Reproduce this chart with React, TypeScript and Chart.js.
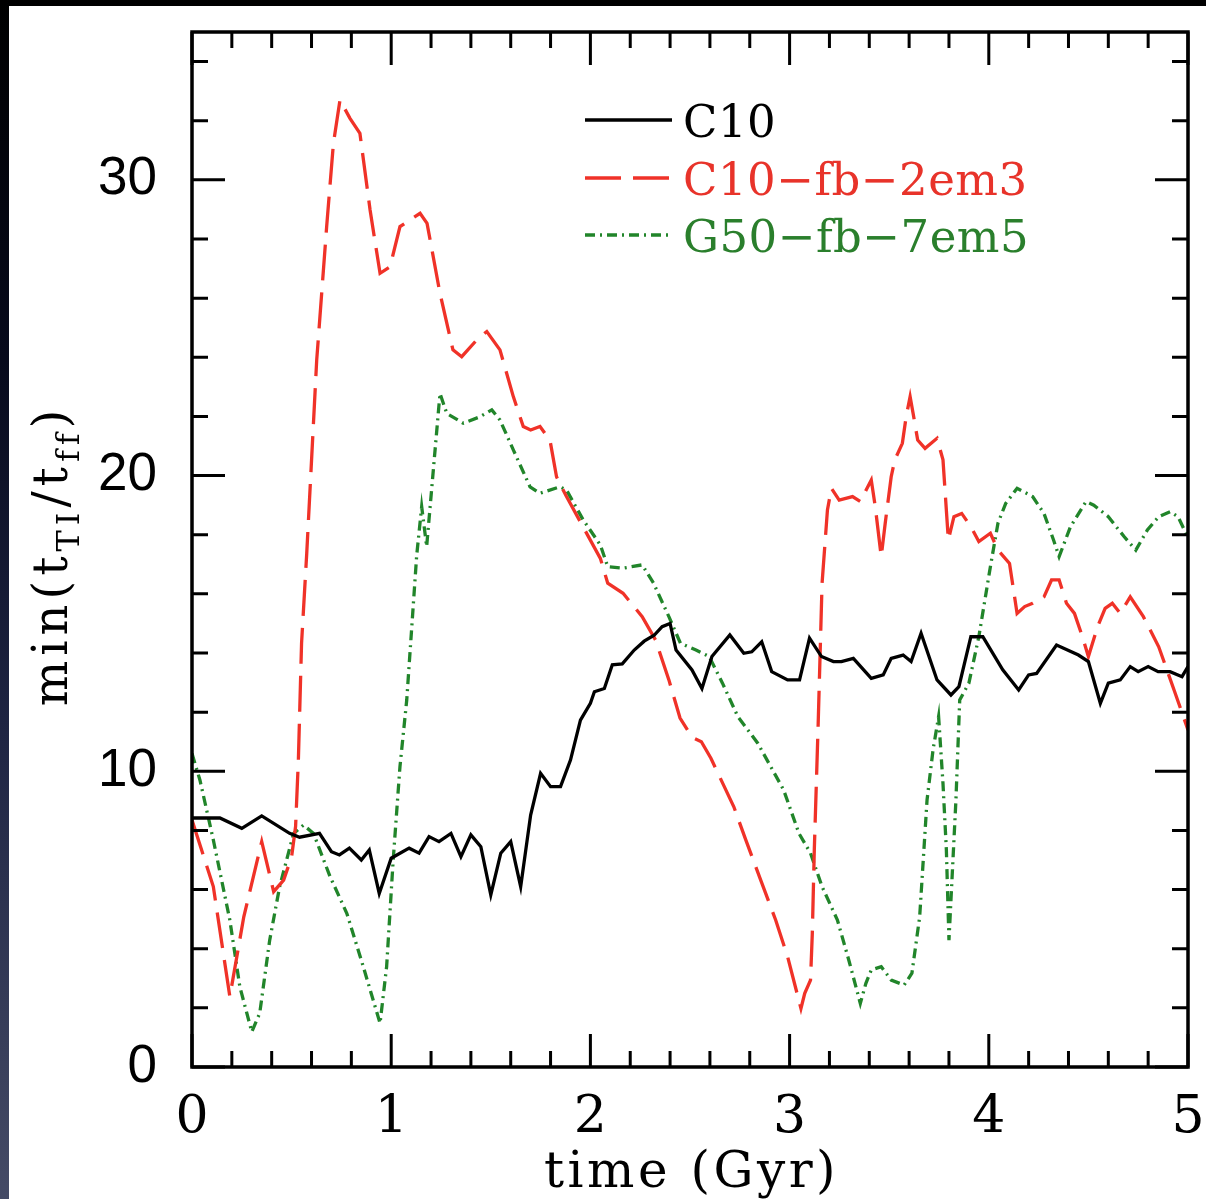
import React, { useEffect, useRef } from 'react';
import { Chart, registerables } from 'chart.js';

Chart.register(...registerables);

// ---- data (time in Gyr, value = min(t_TI/t_ff)) ----
const c10Time = [0.00, 0.14, 0.25, 0.35, 0.49, 0.54, 0.64, 0.70, 0.74, 0.79, 0.85, 0.89, 0.94, 1.00, 1.09, 1.14, 1.19, 1.24, 1.30, 1.35, 1.40, 1.45, 1.50, 1.55, 1.60, 1.65, 1.70, 1.75, 1.80, 1.85, 1.90, 1.95, 2.00, 2.02, 2.07, 2.11, 2.16, 2.22, 2.27, 2.32, 2.36, 2.40, 2.43, 2.51, 2.56, 2.61, 2.70, 2.77, 2.81, 2.86, 2.91, 2.99, 3.05, 3.10, 3.16, 3.22, 3.26, 3.32, 3.41, 3.47, 3.51, 3.57, 3.61, 3.66, 3.74, 3.81, 3.85, 3.91, 3.97, 4.07, 4.15, 4.20, 4.24, 4.34, 4.45, 4.50, 4.56, 4.60, 4.66, 4.71, 4.75, 4.80, 4.85, 4.91, 4.97, 5.00];
const c10Values = [8.42, 8.42, 8.07, 8.49, 7.90, 7.77, 7.90, 7.28, 7.17, 7.40, 7.00, 7.34, 5.87, 7.06, 7.40, 7.23, 7.79, 7.62, 7.90, 7.11, 7.85, 7.45, 5.82, 7.23, 7.62, 6.10, 8.52, 9.93, 9.48, 9.48, 10.38, 11.73, 12.30, 12.69, 12.80, 13.60, 13.63, 14.10, 14.40, 14.60, 14.89, 15.00, 14.10, 13.43, 12.80, 13.88, 14.61, 13.99, 14.04, 14.38, 13.37, 13.09, 13.09, 14.50, 13.88, 13.71, 13.71, 13.82, 13.14, 13.26, 13.82, 13.93, 13.71, 14.67, 13.09, 12.58, 12.86, 14.55, 14.55, 13.43, 12.75, 13.26, 13.31, 14.27, 13.93, 13.71, 12.30, 12.98, 13.09, 13.54, 13.37, 13.54, 13.37, 13.37, 13.20, 13.54];

const fbTime = [0.00, 0.107, 0.19, 0.26, 0.35, 0.41, 0.46, 0.50, 0.52, 0.534, 0.55, 0.576, 0.626, 0.676, 0.71, 0.743, 0.793, 0.843, 0.894, 0.944, 0.994, 1.044, 1.145, 1.18, 1.245, 1.31, 1.354, 1.43, 1.48, 1.546, 1.613, 1.663, 1.70, 1.747, 1.797, 1.83, 1.88, 2.05, 2.087, 2.164, 2.26, 2.327, 2.394, 2.45, 2.51, 2.557, 2.605, 2.72, 2.78, 2.855, 2.93, 2.99, 3.057, 3.076, 3.105, 3.114, 3.124, 3.143, 3.163, 3.19, 3.21, 3.249, 3.316, 3.355, 3.41, 3.43, 3.46, 3.48, 3.51, 3.528, 3.566, 3.585, 3.605, 3.623, 3.643, 3.68, 3.74, 3.77, 3.797, 3.825, 3.864, 3.91, 3.95, 4.008, 4.046, 4.104, 4.142, 4.18, 4.22, 4.277, 4.315, 4.353, 4.39, 4.43, 4.47, 4.50, 4.546, 4.584, 4.62, 4.66, 4.71, 4.776, 4.853, 4.93, 5.00];
const fbValues = [8.35, 6.10, 2.38, 5.08, 7.62, 5.93, 6.32, 7.11, 8.13, 10.38, 14.33, 17.37, 23.90, 28.42, 31.24, 32.70, 32.08, 31.57, 28.98, 26.84, 27.06, 28.42, 28.87, 28.53, 26.16, 24.25, 24.02, 24.59, 24.87, 24.25, 22.67, 21.66, 21.54, 21.66, 21.20, 19.96, 19.29, 17.20, 16.36, 16.02, 15.23, 14.44, 13.09, 11.80, 11.15, 11.00, 10.44, 8.80, 7.68, 6.32, 4.97, 3.73, 1.98, 2.49, 2.94, 4.52, 7.34, 11.50, 16.36, 18.84, 19.57, 19.17, 19.29, 19.12, 19.85, 18.95, 17.26, 18.39, 19.96, 20.53, 21.09, 21.99, 22.67, 21.99, 21.20, 20.92, 21.26, 20.53, 17.82, 18.61, 18.72, 18.27, 17.77, 18.05, 17.48, 17.03, 15.34, 15.57, 15.68, 15.90, 16.47, 16.47, 15.68, 15.34, 14.55, 13.88, 14.89, 15.51, 15.68, 15.34, 15.90, 15.23, 14.21, 12.75, 11.40];

const g50Time = [0.00, 0.04, 0.107, 0.19, 0.24, 0.30, 0.34, 0.39, 0.44, 0.51, 0.56, 0.61, 0.693, 0.777, 0.86, 0.944, 0.977, 1.01, 1.044, 1.078, 1.128, 1.153, 1.178, 1.245, 1.279, 1.362, 1.446, 1.505, 1.546, 1.613, 1.697, 1.747, 1.847, 1.88, 1.964, 2.05, 2.087, 2.164, 2.26, 2.317, 2.394, 2.452, 2.53, 2.596, 2.663, 2.74, 2.84, 2.97, 3.047, 3.105, 3.163, 3.24, 3.297, 3.355, 3.383, 3.41, 3.46, 3.51, 3.575, 3.614, 3.653, 3.69, 3.72, 3.748, 3.77, 3.787, 3.80, 3.835, 3.854, 3.90, 3.95, 4.008, 4.046, 4.085, 4.142, 4.22, 4.277, 4.325, 4.353, 4.41, 4.488, 4.527, 4.60, 4.68, 4.738, 4.796, 4.853, 4.91, 4.95, 5.00];
const g50Values = [10.60, 9.70, 7.68, 4.97, 2.72, 1.19, 1.82, 4.29, 6.10, 7.90, 8.18, 7.90, 6.44, 5.20, 3.39, 1.48, 3.39, 7.00, 10.16, 12.41, 17.30, 18.95, 17.60, 22.78, 22.10, 21.77, 21.99, 22.22, 21.88, 20.87, 19.62, 19.40, 19.62, 19.51, 18.50, 17.65, 16.92, 16.87, 16.98, 16.36, 15.23, 14.33, 14.10, 13.88, 12.98, 11.85, 10.95, 9.37, 7.90, 7.23, 6.10, 4.97, 3.62, 2.15, 2.83, 3.28, 3.39, 2.94, 2.77, 3.17, 5.08, 9.03, 10.72, 11.85, 9.59, 7.34, 4.29, 9.03, 12.41, 12.98, 14.55, 16.92, 18.39, 19.06, 19.57, 19.29, 18.72, 17.82, 17.26, 18.27, 19.12, 19.00, 18.61, 17.93, 17.48, 18.16, 18.61, 18.78, 18.61, 17.90];

const seriesLabels = ['C10', 'C10-fb-2em3', 'G50-fb-7em5'];
const xTickValues = [0, 1, 2, 3, 4, 5];
const yTickValues = [0, 10, 20, 30];
const xTitle = 'time (Gyr)';
const yTitleParts = [
  { text: 'min(t', sub: false },
  { text: 'TI', sub: true },
  { text: '/t', sub: false },
  { text: 'ff', sub: true },
  { text: ')', sub: false },
];

const SERIF = '"DejaVu Serif", "Liberation Serif", serif';
const SANS = '"Liberation Sans", Arial, sans-serif';
const RED = '#f03228';
const GREEN = '#21852a';
const legendTextColors = ['#000000', '#e8332a', '#2a7f2c'];

function toPoints(ts: number[], vs: number[]) {
  return ts.map((t, i) => ({ x: t, y: vs[i] }));
}

function zeroPadding(s: any) {
  s.paddingTop = 0;
  s.paddingBottom = 0;
  s.paddingLeft = 0;
  s.paddingRight = 0;
}

const framePlugin = {
  id: 'frameTicks',
  afterDatasetsDraw(chart: any) {
    const { ctx, chartArea: a, scales } = chart;
    const x = scales.x;
    const y = scales.y;
    ctx.save();
    ctx.strokeStyle = '#000';
    ctx.lineWidth = 3;
    ctx.lineCap = 'butt';
    ctx.beginPath();
    for (let i = 0; i <= 25; i++) {
      const v = i * 0.2;
      const px = x.getPixelForValue(v);
      const len = i % 5 === 0 ? 33 : 16;
      ctx.moveTo(px, a.bottom);
      ctx.lineTo(px, a.bottom - len);
      ctx.moveTo(px, a.top);
      ctx.lineTo(px, a.top + len);
    }
    for (let i = 0; i <= 17; i++) {
      const v = i * 2;
      const py = y.getPixelForValue(v);
      const len = v % 10 === 0 ? 33 : 16;
      ctx.moveTo(a.left, py);
      ctx.lineTo(a.left + len, py);
      ctx.moveTo(a.right, py);
      ctx.lineTo(a.right - len, py);
    }
    ctx.stroke();
    ctx.lineWidth = 3.5;
    ctx.strokeRect(a.left, a.top, a.right - a.left, a.bottom - a.top);
    ctx.restore();
  },
};

const textPlugin = {
  id: 'titlesLegend',
  afterDraw(chart: any) {
    const { ctx, chartArea: a } = chart;
    ctx.save();
    // x title
    ctx.fillStyle = '#000';
    ctx.font = `50px ${SERIF}`;
    (ctx as any).letterSpacing = '3.5px';
    ctx.textAlign = 'center';
    ctx.textBaseline = 'alphabetic';
    ctx.fillText(xTitle, (a.left + a.right) / 2 + 1.5, a.bottom + 120);

    // y title (rotated, with subscripts)
    ctx.save();
    ctx.translate(58, (a.top + a.bottom) / 2 + 6);
    ctx.rotate(-Math.PI / 2);
    ctx.textAlign = 'left';
    (ctx as any).letterSpacing = '5px';
    const widths = yTitleParts.map((p) => {
      ctx.font = `${p.sub ? 32 : 48}px ${SERIF}`;
      return ctx.measureText(p.text).width;
    });
    const total = widths.reduce((s, w) => s + w, 0);
    let cx = -total / 2;
    yTitleParts.forEach((p, i) => {
      ctx.font = `${p.sub ? 32 : 48}px ${SERIF}`;
      ctx.fillText(p.text, cx, p.sub ? 12 : 0);
      cx += widths[i];
    });
    ctx.restore();

    // legend
    (ctx as any).letterSpacing = '0.5px';
    ctx.font = `45px ${SERIF}`;
    ctx.textAlign = 'left';
    ctx.textBaseline = 'alphabetic';
    const rowY = [88, 146, 203];
    chart.data.datasets.forEach((ds: any, i: number) => {
      const ly = a.top + rowY[i];
      ctx.save();
      ctx.strokeStyle = ds.borderColor;
      ctx.lineWidth = ds.borderWidth;
      ctx.setLineDash(ds.borderDash || []);
      ctx.beginPath();
      ctx.moveTo(a.left + 393, ly);
      ctx.lineTo(a.left + 480, ly);
      ctx.stroke();
      ctx.restore();
      ctx.fillStyle = legendTextColors[i];
      ctx.fillText(String(ds.label).replace(/-/g, '\u2212'), a.left + 491, ly + 17);
    });
    ctx.restore();
  },
};

export default function App() {
  const ref = useRef<HTMLCanvasElement | null>(null);

  useEffect(() => {
    document.body.style.margin = '0';
    document.body.style.overflow = 'hidden';
    if (!ref.current) return;
    const chart = new Chart(ref.current, {
      type: 'line',
      data: {
        datasets: [
          {
            label: seriesLabels[0],
            data: toPoints(c10Time, c10Values),
            borderColor: '#000000',
            borderWidth: 3.3,
            pointRadius: 0,
            tension: 0,
            fill: false,
          },
          {
            label: seriesLabels[1],
            data: toPoints(fbTime, fbValues),
            borderColor: RED,
            borderWidth: 3.3,
            borderDash: [36, 12],
            pointRadius: 0,
            tension: 0,
            fill: false,
          },
          {
            label: seriesLabels[2],
            data: toPoints(g50Time, g50Values),
            borderColor: GREEN,
            borderWidth: 3.3,
            borderDash: [10, 5, 2, 5],
            pointRadius: 0,
            tension: 0,
            fill: false,
          },
        ],
      },
      options: {
        animation: false,
        responsive: false,
        devicePixelRatio: 1,
        events: [],
        layout: { padding: { left: 0, top: 26, right: 18, bottom: 0 } },
        plugins: {
          legend: { display: false },
          tooltip: { enabled: false },
          title: { display: false },
        },
        scales: {
          x: {
            type: 'linear',
            min: 0,
            max: 5,
            afterFit: (s: any) => {
              s.height = 132;
              zeroPadding(s);
            },
            afterBuildTicks: (s: any) => {
              s.ticks = xTickValues.map((v) => ({ value: v }));
            },
            ticks: {
              font: { family: SERIF, size: 52 },
              color: '#000',
              padding: 20,
              maxRotation: 0,
              autoSkip: false,
              callback: (v: any) => String(v),
            },
            grid: { display: false, drawTicks: false },
            border: { display: false },
            title: { display: false },
          },
          y: {
            type: 'linear',
            min: 0,
            max: 35,
            afterFit: (s: any) => {
              s.width = 183;
              zeroPadding(s);
            },
            afterBuildTicks: (s: any) => {
              s.ticks = yTickValues.map((v) => ({ value: v }));
            },
            ticks: {
              font: { family: SANS, size: 53 },
              color: '#000',
              padding: 35,
              autoSkip: false,
              callback: (v: any) => String(v),
            },
            grid: { display: false, drawTicks: false },
            border: { display: false },
            title: { display: false },
          },
        },
      },
      plugins: [framePlugin, textPlugin],
    } as any);
    return () => chart.destroy();
  }, []);

  return (
    <div
      style={{
        position: 'fixed',
        left: 0,
        top: 0,
        width: 1206,
        height: 1199,
        overflow: 'hidden',
        background: 'linear-gradient(180deg, #000000 0%, #070a1c 30%, #1e2442 60%, #454b66 100%)',
      }}
    >
      <div style={{ position: 'absolute', left: 9, top: 6, width: 1197, height: 1193, background: '#ffffff' }}>
        <canvas ref={ref} width={1197} height={1193} style={{ display: 'block' }} />
      </div>
    </div>
  );
}
